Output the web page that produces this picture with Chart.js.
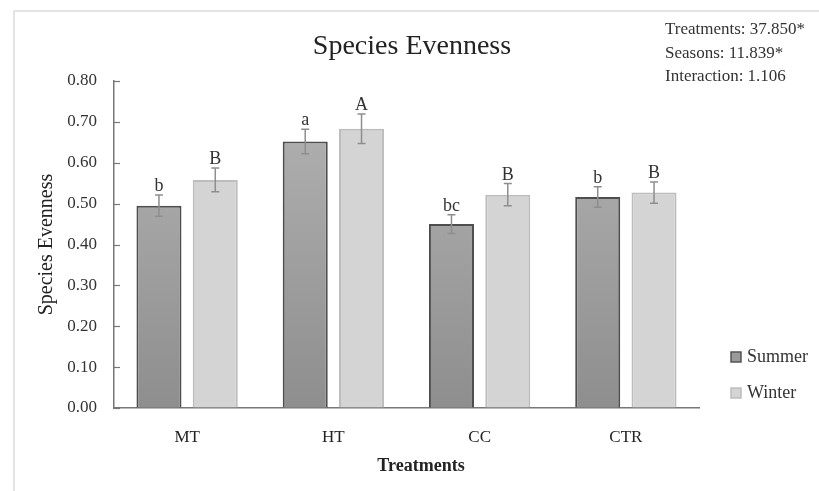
<!DOCTYPE html>
<html>
<head>
<meta charset="utf-8">
<script src="https://cdn.jsdelivr.net/npm/chart.js@4.4.1/dist/chart.umd.min.js"></script>
<style>
  html, body { margin: 0; padding: 0; background: #fff; }
  #wrap { width: 819px; height: 491px; position: relative; }
</style>
</head>
<body>
<div id="wrap"><canvas id="grafico"></canvas></div>
<script>
// === Dados do gráfico ===
const treatments = ["MT", "HT", "CC", "CTR"];
const summerValues = [0.495, 0.652, 0.450, 0.516];
const winterValues = [0.558, 0.683, 0.522, 0.527];
const summerErrors = [0.026, 0.030, 0.023, 0.025];
const winterErrors = [0.029, 0.036, 0.027, 0.026];
const summerLetters = ["b", "a", "bc", "b"];
const winterLetters = ["B", "A", "B", "B"];
const yTicks = [0, 0.1, 0.2, 0.3, 0.4, 0.5, 0.6, 0.7, 0.8];
const statsLines = ["Treatments: 37.850*", "Seasons: 11.839*", "Interaction: 1.106"];

const SERIF = "'Liberation Serif', 'DejaVu Serif', serif";

// gradiente das barras de verão
function summerFill(context) {
  const area = context.chart.chartArea;
  if (!area) return "#9c9c9c";
  const g = context.chart.ctx.createLinearGradient(0, area.top, 0, area.bottom);
  g.addColorStop(0, "#b4b4b4");
  g.addColorStop(1, "#8e8e8e");
  return g;
}

// === Moldura, barras de erro, letras, legenda e textos ===
const extras = {
  id: "extras",
  beforeDraw(chart) {
    const ctx = chart.ctx;
    ctx.save();
    ctx.strokeStyle = "#dcdcdc";
    ctx.lineWidth = 1.5;
    ctx.beginPath();
    ctx.moveTo(14, 491);
    ctx.lineTo(14, 11);
    ctx.lineTo(819, 11);
    ctx.stroke();
    ctx.restore();
  },
  afterDraw(chart) {
    const ctx = chart.ctx;
    const y = chart.scales.y;
    const area = chart.chartArea;
    ctx.save();

    // marcas internas do eixo y
    ctx.strokeStyle = "#777";
    ctx.lineWidth = 1.2;
    yTicks.forEach(v => {
      const py = Math.round(y.getPixelForValue(v)) + 0.5;
      ctx.beginPath();
      ctx.moveTo(area.left, py);
      ctx.lineTo(area.left + 6, py);
      ctx.stroke();
    });

    // barras de erro + letras
    const errs = [summerErrors, winterErrors];
    const letters = [summerLetters, winterLetters];
    chart.data.datasets.forEach((ds, di) => {
      const meta = chart.getDatasetMeta(di);
      meta.data.forEach((bar, i) => {
        const v = ds.data[i];
        const top = y.getPixelForValue(v + errs[di][i]);
        const bot = y.getPixelForValue(v - errs[di][i]);
        ctx.strokeStyle = "#8e8e8e";
        ctx.lineWidth = 1.5;
        ctx.beginPath();
        ctx.moveTo(bar.x, top); ctx.lineTo(bar.x, bot);
        ctx.moveTo(bar.x - 4, top); ctx.lineTo(bar.x + 4, top);
        ctx.moveTo(bar.x - 4, bot); ctx.lineTo(bar.x + 4, bot);
        ctx.stroke();
        ctx.fillStyle = "#333";
        ctx.font = "18px " + SERIF;
        ctx.textAlign = "center";
        ctx.textBaseline = "alphabetic";
        ctx.fillText(letters[di][i], bar.x, top - 4);
      });
    });

    // título
    ctx.fillStyle = "#222";
    ctx.font = "28px " + SERIF;
    ctx.textAlign = "center";
    ctx.textBaseline = "middle";
    ctx.fillText("Species Evenness", 412, 47);

    // título do eixo x
    ctx.font = "bold 18px " + SERIF;
    ctx.fillText("Treatments", 421, 466);

    // estatísticas
    ctx.font = "17px " + SERIF;
    ctx.textAlign = "left";
    ctx.fillStyle = "#333";
    statsLines.forEach((t, i) => ctx.fillText(t, 665, 30 + i * 23.5));

    // legenda
    chart.data.datasets.forEach((ds, di) => {
      const ly = 357 + di * 36;
      ctx.fillStyle = di === 0 ? "#9a9a9a" : "#d4d4d4";
      ctx.strokeStyle = di === 0 ? "#555" : "#bdbdbd";
      ctx.lineWidth = 1.5;
      ctx.fillRect(731, ly - 5, 10, 10);
      ctx.strokeRect(731, ly - 5, 10, 10);
      ctx.fillStyle = "#333";
      ctx.font = "18px " + SERIF;
      ctx.textBaseline = "middle";
      ctx.fillText(ds.label, 747, ly);
    });
    ctx.restore();
  }
};

const ctxG = document.getElementById("grafico").getContext("2d");
const chart = new Chart(ctxG, {
  type: "bar",
  data: {
    labels: treatments,
    datasets: [
      {
        label: "Summer",
        data: summerValues,
        backgroundColor: summerFill,
        borderColor: "#4e4e4e",
        borderWidth: 2,
        barPercentage: 0.8,
        categoryPercentage: 0.77,
      },
      {
        label: "Winter",
        data: winterValues,
        backgroundColor: "#d4d4d4",
        borderColor: "#bdbdbd",
        borderWidth: 2,
        barPercentage: 0.8,
        categoryPercentage: 0.77,
      },
    ],
  },
  options: {
    responsive: true,
    maintainAspectRatio: false,
    animation: false,
    layout: { padding: { left: 14, top: 81, right: 120, bottom: 0 } },
    plugins: {
      legend: { display: false },
      title: { display: false },
      tooltip: { enabled: false },
    },
    scales: {
      x: {
        grid: { display: false, drawTicks: false },
        border: { color: "#777", width: 1.5 },
        ticks: { color: "#222", font: { family: SERIF, size: 17 }, padding: 19 },
        title: { display: false },
        afterFit(scale) { scale.height = 83; },
      },
      y: {
        min: 0,
        max: 0.8,
        grid: { drawOnChartArea: false, drawTicks: false },
        border: { color: "#777", width: 1.5 },
        ticks: {
          stepSize: 0.1,
          color: "#333",
          font: { family: SERIF, size: 17 },
          padding: 17,
          callback: v => v.toFixed(2),
        },
        title: {
          display: true,
          text: "Species Evenness",
          color: "#222",
          font: { family: SERIF, size: 20 },
          padding: { top: 21, bottom: 0 },
        },
        afterFit(scale) { scale.width = 100; },
      },
    },
  },
  plugins: [extras],
});
</script>
</body>
</html>
